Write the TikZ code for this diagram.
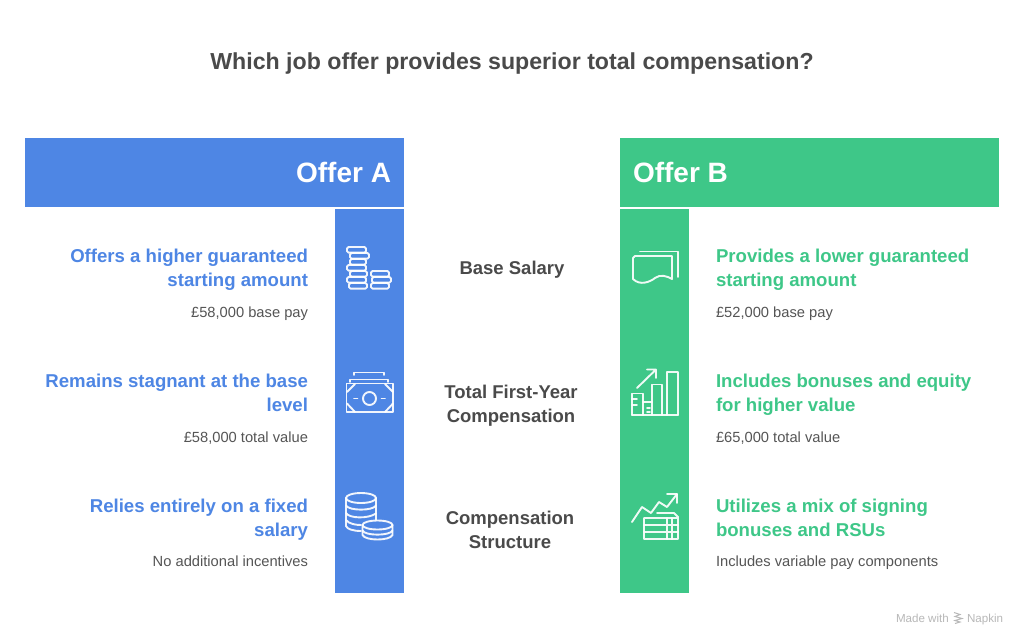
\documentclass[tikz,border=0pt]{standalone}
\usepackage{fontspec}
\setmainfont{Liberation Sans}
\usetikzlibrary{shapes}
\usetikzlibrary{arrows}
\definecolor{offerblue}{HTML}{4E86E4}
\definecolor{offergreen}{HTML}{3EC788}
\definecolor{inkgray}{HTML}{4A4A4A}
\definecolor{subgray}{HTML}{555555}
\definecolor{markgray}{HTML}{B8B8B8}
\newcommand{\coin}[3]{\draw[icon,rounded corners=1.5] (#1,#2) rectangle (#3,#2+5.6);}
\begin{document}
\begin{tikzpicture}[x=1pt,y=-1pt]
				\tikzstyle{every node}=[inner sep=0pt,outer sep=0pt]
				\tikzstyle{title}=[font=\fontsize{23.15}{28}\selectfont\bfseries,text=inkgray]
				\tikzstyle{offername}=[font=\fontsize{28}{32}\selectfont\bfseries,text=white]
				\tikzstyle{heada}=[font=\fontsize{18.6}{24}\selectfont\bfseries,text=offerblue,align=right,anchor=north east]
				\tikzstyle{headb}=[font=\fontsize{18.6}{24}\selectfont\bfseries,text=offergreen,align=left,anchor=north west]
				\tikzstyle{suba}=[font=\fontsize{14.7}{18}\selectfont,text=subgray,anchor=base east]
				\tikzstyle{subb}=[font=\fontsize{14.7}{18}\selectfont,text=subgray,anchor=base west]
				\tikzstyle{middle}=[font=\fontsize{18.5}{24}\selectfont\bfseries,text=inkgray,align=center]
				\tikzstyle{madeby}=[font=\fontsize{11.6}{13}\selectfont,text=markgray,anchor=base west]
				\tikzstyle{icon}=[draw=white,line width=1.9pt,line join=round,line cap=round,opacity=.92]
				\useasboundingbox[fill=white] (0,0) rectangle (1024,642);
				\fill[offerblue] (25,138) rectangle (404,207);
				\fill[offergreen] (620,138) rectangle (999,207);
				\fill[offerblue] (335,209) rectangle (404,593);
				\fill[offergreen] (620,209) rectangle (689,593);
				\node[title] (question) at (512,64) {Which job offer provides superior total compensation?};
				\node[offername,anchor=east] (offera) at (391,172) {Offer A};
				\node[offername,anchor=west] (offerb) at (633,172) {Offer B};
				% left side
				\node[heada] (heada1) at (308,249.5) {Offers a higher guaranteed\\starting amount};
				\node[suba] (suba1) at (308,317) {£58,000 base pay};
				\node[heada] (heada2) at (308,374.5) {Remains stagnant at the base\\level};
				\node[suba] (suba2) at (308,442) {£58,000 total value};
				\node[heada] (heada3) at (308,499.5) {Relies entirely on a fixed\\salary};
				\node[suba] (suba3) at (308,566.5) {No additional incentives};
				% middle
				\node[middle] (base) at (512,269.5) {Base Salary};
				\node[middle] (total) at (511,406) {Total First-Year\\Compensation};
				\node[middle] (structure) at (510,530) {Compensation\\Structure};
				% right side
				\node[headb] (headb1) at (716,249.5) {Provides a lower guaranteed\\starting amount};
				\node[subb] (subb1) at (716,317) {£52,000 base pay};
				\node[headb] (headb2) at (716,374.5) {Includes bonuses and equity\\for higher value};
				\node[subb] (subb2) at (716,442) {£65,000 total value};
				\node[headb] (headb3) at (716,499.5) {Utilizes a mix of signing\\bonuses and RSUs};
				\node[subb] (subb3) at (716,566.5) {Includes variable pay components};
				% coins
				\coin{347}{247}{366}
				\coin{350}{253}{369}
				\coin{350}{259}{366}
				\coin{347}{265}{366}
				\coin{350}{271}{367}
				\coin{347}{277}{366}
				\coin{349}{283}{367}
				\coin{371}{271}{389}
				\coin{372}{277}{391}
				\coin{371}{283}{389}
				% banknotes
				\draw[icon] (346.5,383.5) rectangle (393,412);
				\draw[icon] (350,382) -- (350,379.5) -- (388,379.5) -- (388,382);
				\draw[icon] (354,375) -- (354,372.5) -- (384,372.5) -- (384,375);
				\draw[icon] (369.5,398.5) circle (6.5);
				\draw[icon] (354,398.5) -- (357.5,398.5) (381.5,398.5) -- (385,398.5);
				\draw[icon] (347,392) -- (355,384) (393,392) -- (385,384) (347,403.5) -- (355,412) (393,403.5) -- (385,412);
				% cylinders
				\draw[icon] (361,498) ellipse (15 and 5);
				\draw[icon] (346,498) -- (346,526) .. controls (347,529) and (353,531) .. (361,531);
				\draw[icon] (376,498) -- (376,520);
				\draw[icon] (346,505.5) .. controls (349,511) and (373,511) .. (376,505.5);
				\draw[icon] (346,513) .. controls (349,518.5) and (368,519) .. (376,513.5);
				\draw[icon] (346,520) .. controls (349,524) and (356,525) .. (361,525);
				\draw[icon] (377.5,525) ellipse (15 and 4.5);
				\draw[icon] (362.5,525) -- (362.5,535) .. controls (365,541) and (390,541) .. (392.5,535) -- (392.5,525);
				\draw[icon] (362.5,530.5) .. controls (365,536) and (390,536) .. (392.5,530.5);
				% documents
				\draw[icon] (633,258) -- (633,279) .. controls (640,286) and (650,282) .. (655,278) .. controls (660,274) and (667,276) .. (672,279) -- (672,256) -- (635,256) -- cycle;
				\draw[icon] (640,251.5) -- (678,251.5) -- (678,277);
				% bars
				\draw[icon] (632,415) -- (678,415);
				\draw[icon] (667,415) -- (667,372) -- (678,372) -- (678,415);
				\draw[icon] (652,415) -- (652,384.5) -- (662,384.5) -- (662,415);
				\draw[icon] (632,415) -- (632,393.5) -- (643,393.5) -- (643,415);
				\draw[icon] (643,402) -- (652,402);
				\draw[icon] (632,399) -- (637,399) (632,405) -- (637,405) (647,408) -- (650,408) (647,412) -- (650,412);
				\draw[icon] (637,388) -- (656,369.5) (647,369.5) -- (656,369.5) -- (656,378);
				% table
				\draw[icon] (632,522) -- (642,507) -- (651,513) -- (659,502) -- (667,507) -- (677,494);
				\draw[icon] (667,494) -- (677,494) -- (677,503);
				\draw[icon] (657,513) -- (674,513) -- (678,517) -- (678,539) -- (644,539) -- (644,518) -- (678,518);
				\draw[icon] (644,525) -- (678,525) (644,532) -- (678,532) (667,518) -- (667,539) (672,518) -- (672,539);
				% logo
				\node[madeby] (made) at (896,622) {Made with};
				\node[madeby] (napkin) at (967,622) {Napkin};
				\draw[markgray,line width=1pt] (954,612.5) -- (960,614.5) -- (955,616.5) -- (962,618.5) -- (955,620.5) -- (960,622) -- (955,623.5);
\end{tikzpicture}
\end{document}
